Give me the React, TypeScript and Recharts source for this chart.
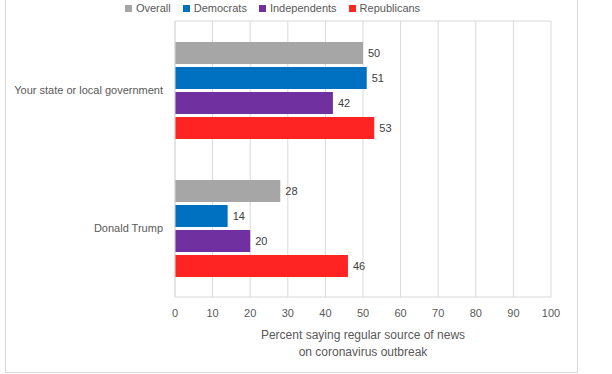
import { BarChart, Bar, XAxis, YAxis, CartesianGrid, Legend, LabelList } from 'recharts';

const categories = ['Your state or local government', 'Donald Trump'];
const overall = [50, 28];
const democrats = [51, 14];
const independents = [42, 20];
const republicans = [53, 46];
const xTicks = [0, 10, 20, 30, 40, 50, 60, 70, 80, 90, 100];

const seriesDefs = [
  { key: 'overall', name: 'Overall', color: '#a6a6a6', values: overall },
  { key: 'democrats', name: 'Democrats', color: '#0070c0', values: democrats },
  { key: 'independents', name: 'Independents', color: '#7030a0', values: independents },
  { key: 'republicans', name: 'Republicans', color: '#ff2424', values: republicans },
];

const data = categories.map((name, i) => {
  const row: Record<string, string | number> = { name };
  seriesDefs.forEach((s) => {
    row[s.key] = s.values[i];
  });
  return row;
});

const FONT = '"Liberation Sans", Arial, sans-serif';
const TEXT = '#595959';

const LegendContent = () => (
  <div style={{ display: 'flex', justifyContent: 'center', fontFamily: FONT, fontSize: 11, color: TEXT, lineHeight: '14px' }}>
    {seriesDefs.map((s) => (
      <div key={s.key} style={{ display: 'flex', alignItems: 'center', marginRight: 12 }}>
        <span style={{ width: 7, height: 7, background: s.color, marginRight: 4, display: 'inline-block' }} />
        <span>{s.name}</span>
      </div>
    ))}
  </div>
);

// category labels on one line, no wrapping
const CategoryTick = (props: any) => {
  const { x, y, payload } = props;
  return (
    <text x={x} y={y} dy={4} textAnchor="end" fill={TEXT} fontSize={11} fontFamily={FONT}>
      {payload.value}
    </text>
  );
};

const AxisTitle = (props: any) => {
  const { viewBox } = props;
  if (!viewBox) return null;
  const cx = viewBox.x + viewBox.width / 2;
  const y = viewBox.y;
  return (
    <text x={cx} y={y} textAnchor="middle" fill={TEXT} fontSize={12} fontFamily={FONT}>
      <tspan x={cx} dy={42}>Percent saying regular source of news</tspan>
      <tspan x={cx} dy={17}>on coronavirus outbreak</tspan>
    </text>
  );
};

export default function App() {
  return (
    <div
      style={{
        position: 'absolute',
        left: 5,
        top: -20,
        width: 571,
        height: 391,
        border: '1px solid #d9d9d9',
        background: '#fff',
      }}
    >
      <BarChart
        width={571}
        height={391}
        data={data}
        layout="vertical"
        margin={{ top: 0, right: 26, bottom: 0, left: 0 }}
        barSize={22}
        barGap={3}
      >
        <CartesianGrid vertical horizontal={false} stroke="#d9d9d9" />
        <Legend verticalAlign="top" content={<LegendContent />} wrapperStyle={{ top: 20 }} />
        <XAxis
          xAxisId="top"
          type="number"
          orientation="top"
          domain={[0, 100]}
          ticks={xTicks}
          tick={false}
          tickLine={false}
          height={26}
          axisLine={{ stroke: '#d9d9d9' }}
        />
        <XAxis
          type="number"
          domain={[0, 100]}
          ticks={xTicks}
          tickLine={false}
          tickMargin={6}
          axisLine={{ stroke: '#d9d9d9' }}
          tick={{ fill: TEXT, fontSize: 11, fontFamily: FONT }}
          height={75}
          label={<AxisTitle />}
        />
        <YAxis
          type="category"
          dataKey="name"
          width={169}
          tickLine={false}
          tickMargin={6}
          axisLine={{ stroke: '#d9d9d9' }}
          tick={<CategoryTick />}
        />
        {seriesDefs.map((s) => (
          <Bar key={s.key} dataKey={s.key} name={s.name} fill={s.color} isAnimationActive={false}>
            <LabelList dataKey={s.key} position="right" offset={5} fill="#404040" fontSize={11} fontFamily={FONT} />
          </Bar>
        ))}
      </BarChart>
    </div>
  );
}
